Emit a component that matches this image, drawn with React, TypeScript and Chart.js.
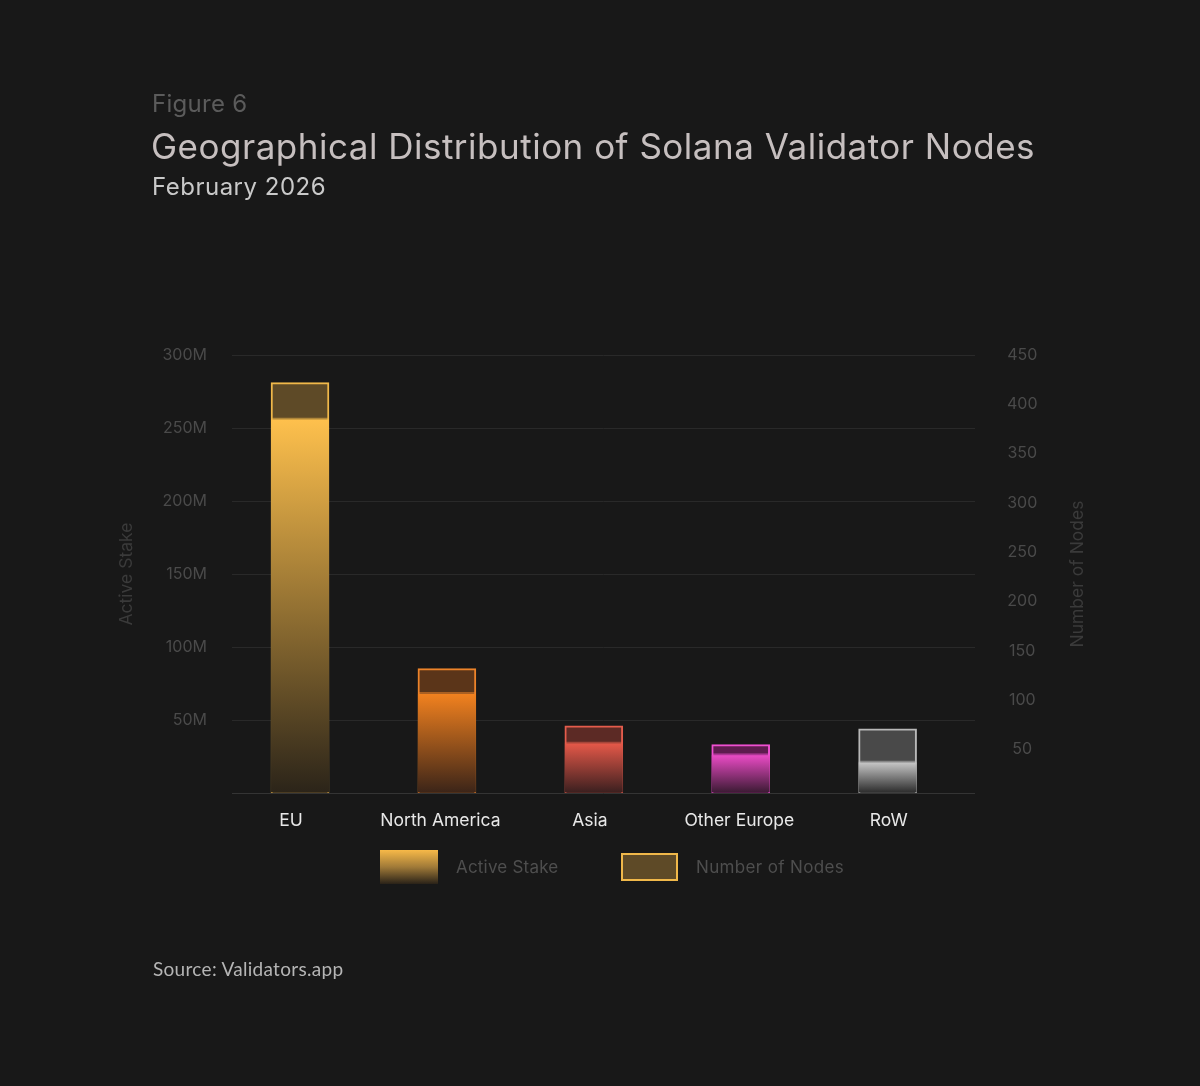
import React, { useEffect, useRef } from "react"
import { Chart, registerables } from "chart.js"

Chart.register(...registerables)

const regions = ["EU", "North America", "Asia", "Other Europe", "RoW"]
const activeStakeM = [257, 69, 35, 27, 22]
const nodeCounts = [422, 132, 74, 55, 71]
const stakeTicks = [0, 50, 100, 150, 200, 250, 300]
const nodeTicks = [50, 100, 150, 200, 250, 300, 350, 400, 450]

const BG = "#181818"
const FONT = "Inter, 'Open Sans', sans-serif"

const stakeTop = ["#ffc14d", "#f5831f", "#ea5a4a", "#f24dcc", "#cfcfcf"]
const stakeBottom = ["#2b2419", "#3b2418", "#3a1f1f", "#3a1a32", "#2a2a2a"]
const nodeFill = ["#5e4a27", "#5b3519", "#5c2a25", "#5e1c4f", "#494949"]
const nodeBorder = ["#f0b84a", "#ec832a", "#e45c4c", "#ee4fd0", "#b8b8b8"]

const rightAxisTitle = "Number of Nodes"

// the right title reads bottom-to-top like the left one
const rightTitlePlugin = {
  id: "rightTitle",
  afterDraw(chart: any) {
    const { ctx, chartArea } = chart
    const scale = chart.scales.y1
    ctx.save()
    ctx.translate(scale.right - 22, (chartArea.top + chartArea.bottom) / 2)
    ctx.rotate(-Math.PI / 2)
    ctx.font = `17.5px ${FONT}`
    ctx.fillStyle = "#3a3a3a"
    ctx.textAlign = "center"
    ctx.textBaseline = "middle"
    ctx.fillText(rightAxisTitle, 0, 0)
    ctx.restore()
  },
}

const App: React.FC = () => {
  const canvasRef = useRef<HTMLCanvasElement | null>(null)

  useEffect(() => {
    document.body.style.margin = "0"
    document.body.style.background = BG
    if (!canvasRef.current) return
    const ctx = canvasRef.current.getContext("2d")
    if (!ctx) return

    Chart.defaults.font.family = FONT

    const stakeGradient = (c: any) => {
      const chart = c.chart
      const area = chart.chartArea
      const i = c.dataIndex ?? 0
      if (!area || c.type !== "data") return stakeTop[i]
      const top = chart.scales.y.getPixelForValue(activeStakeM[i])
      const g = chart.ctx.createLinearGradient(0, top, 0, area.bottom)
      g.addColorStop(0, stakeTop[i])
      g.addColorStop(1, stakeBottom[i])
      return g
    }

    const chartInstance = new Chart(ctx, {
      type: "bar",
      data: {
        datasets: [
          {
            label: "Active Stake",
            data: regions.map((_, i) => ({ x: i, y: activeStakeM[i] })),
            xAxisID: "xb",
            yAxisID: "y",
            order: 0,
            grouped: false,
            barThickness: 58,
            backgroundColor: stakeGradient,
            borderColor: nodeBorder.map((c) => c + "8c"),
            borderWidth: { top: 2, right: 0, bottom: 0, left: 0 },
            borderSkipped: false,
          } as any,
          {
            label: "Number of Nodes",
            data: regions.map((_, i) => ({ x: i, y: nodeCounts[i] })),
            xAxisID: "xb",
            yAxisID: "y1",
            order: 1,
            grouped: false,
            barThickness: 58,
            backgroundColor: nodeFill,
            borderColor: nodeBorder,
            borderWidth: 2,
          } as any,
        ],
      },
      options: {
        responsive: false,
        animation: false,
        layout: { padding: { left: 100, right: 100, top: 355, bottom: 253 } },
        plugins: {
          legend: { display: false },
          tooltip: { enabled: false },
        },
        scales: {
          // category labels
          x: {
            type: "linear",
            min: -0.395,
            max: 4.577,
            offset: false,
            afterBuildTicks: (s: any) => {
              s.ticks = regions.map((_, i) => ({ value: i }))
            },
            afterFit: (s: any) => {
              s.height = 40
            },
            grid: { display: false },
            border: { display: false },
            ticks: {
              color: "#e8e8e8",
              font: { size: 17.5 },
              padding: 9,
              autoSkip: false,
              maxRotation: 0,
              callback: (v: any) => regions[v as number] ?? "",
            },
          },
          // bars sit slightly right of the labels for the first groups
          xb: {
            type: "linear",
            display: false,
            min: -0.463,
            max: 4.595,
            offset: false,
          },
          y: {
            position: "left",
            min: 0,
            max: 300,
            afterBuildTicks: (s: any) => {
              s.ticks = stakeTicks.map((value) => ({ value }))
            },
            afterFit: (s: any) => {
              s.width = 132
            },
            grid: {
              color: (c: any) => (c.tick?.value === 0 ? "#343434" : "#292929"),
              drawTicks: false,
            },
            border: { display: false },
            ticks: {
              color: "#4a4a4a",
              font: { size: 16 },
              padding: 25,
              callback: (v: any) => (v === 0 ? "" : `${v}M`),
            },
            title: {
              display: true,
              text: "Active Stake",
              color: "#3a3a3a",
              font: { size: 17.5 },
              padding: { top: 16, bottom: 0 },
            },
          },
          y1: {
            position: "right",
            min: 6,
            max: 450,
            afterBuildTicks: (s: any) => {
              s.ticks = nodeTicks.map((value) => ({ value }))
            },
            afterFit: (s: any) => {
              s.width = 125
            },
            grid: { display: false, drawTicks: false },
            border: { display: false },
            ticks: {
              color: "#4a4a4a",
              font: { size: 16 },
              padding: 32,
              crossAlign: "center",
              callback: (v: any) => String(v),
            },
          },
        },
      },
      plugins: [rightTitlePlugin],
    })

    return () => {
      chartInstance.destroy()
    }
  }, [])

  const abs = (left: number, top: number): React.CSSProperties => ({
    position: "absolute",
    left,
    top,
    lineHeight: 1,
    whiteSpace: "nowrap",
  })

  return (
    <div
      style={{
        position: "relative",
        width: 1200,
        height: 1086,
        background: BG,
        overflow: "hidden",
        fontFamily: FONT,
      }}
    >
      <canvas
        ref={canvasRef}
        width={1200}
        height={1086}
        style={{ position: "absolute", left: 0, top: 0 }}
      />
      <div style={{ ...abs(152, 92), fontSize: 24, letterSpacing: 0.3, color: "#5b5b5b" }}>
        Figure 6
      </div>
      <div style={{ ...abs(151, 129), fontSize: 35, letterSpacing: 0.5, color: "#c6bfbf" }}>
        Geographical Distribution of Solana Validator Nodes
      </div>
      <div style={{ ...abs(152, 175), fontSize: 24, letterSpacing: 0.5, color: "#c9c9c9" }}>
        February 2026
      </div>

      <div
        style={{
          ...abs(380, 850),
          width: 58,
          height: 34,
          background: "linear-gradient(to bottom, #f7b948 0%, #a07a38 50%, #2a2218 100%)",
        }}
      />
      <div style={{ ...abs(456, 859), fontSize: 17, letterSpacing: 0.2, color: "#4e4e4e" }}>
        Active Stake
      </div>
      <div
        style={{
          ...abs(621, 853),
          width: 57,
          height: 28,
          boxSizing: "border-box",
          background: "#5e4a27",
          border: "2px solid #f0b84a",
        }}
      />
      <div style={{ ...abs(696, 859), fontSize: 17, letterSpacing: 0.35, color: "#4e4e4e" }}>
        Number of Nodes
      </div>

      <div
        style={{
          ...abs(153, 959),
          fontSize: 19,
          letterSpacing: 0.3,
          color: "#b5b5b5",
          fontFamily: "Lato, 'Liberation Sans', sans-serif",
        }}
      >
        Source: Validators.app
      </div>
    </div>
  )
}

export default App
